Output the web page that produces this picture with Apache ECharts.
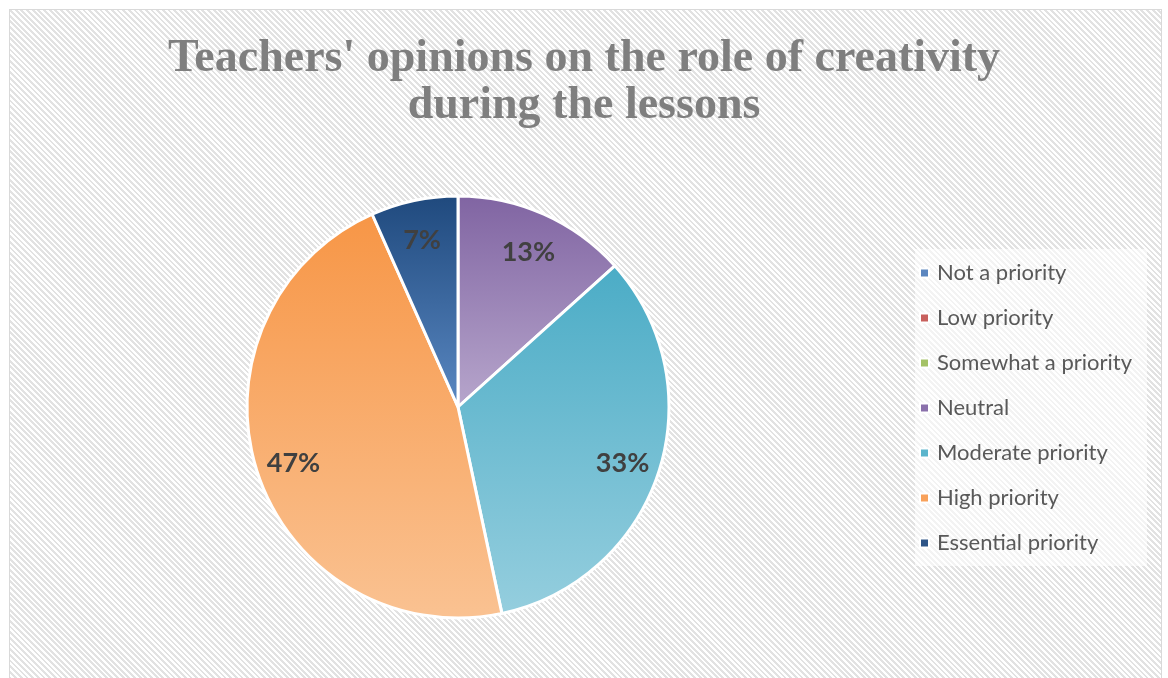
<!DOCTYPE html>
<html>
<head>
<meta charset="utf-8">
<script src="https://cdn.jsdelivr.net/npm/echarts@6/dist/echarts.min.js"></script>
<style>
  html, body { margin: 0; padding: 0; background: #fff; }
  #frame {
    position: absolute; left: 9px; top: 9px; width: 1151px; height: 700px;
    border: 1px solid #d9d9d9;
    background: repeating-linear-gradient(45deg, #ffffff 0px, #ffffff 2px, #e2e2e2 2px, #e2e2e2 4px);
  }
  #chart { position: absolute; left: 0; top: 0; width: 1168px; height: 678px; }
</style>
</head>
<body>
<div id="frame"></div>
<div id="chart"></div>
<script>
// categories and answers (number of teachers)
const categorias = ['Not a priority', 'Low priority', 'Somewhat a priority', 'Neutral',
  'Moderate priority', 'High priority', 'Essential priority'];
const respuestas = [0, 0, 0, 2, 5, 7, 1];

// top / bottom colours of each slice gradient
const colores_arriba = ['#4F81BD', '#C0504D', '#9BBB59', '#8064A2', '#4BACC6', '#F79646', '#1F497D'];
const colores_abajo = ['#95B3D7', '#D99694', '#C3D69B', '#B7A6CC', '#95CEDE', '#FAC292', '#5A88C2'];
const colores_leyenda = ['#5B86BF', '#C8605D', '#A4C266', '#8A70AB', '#5BB5CC', '#F8A15A', '#2E5587'];

const total = respuestas.reduce((a, b) => a + b, 0);

const datos_pie = categorias.map((c, i) => ({
  name: c,
  value: respuestas[i],
  itemStyle: {
    color: new echarts.graphic.LinearGradient(0, 0, 0, 1, [
      { offset: 0, color: colores_arriba[i] },
      { offset: 1, color: colores_abajo[i] }
    ])
  }
}));

const etiqueta = function (p) {
  if (!p.value) return '';
  return Math.round(p.value / total * 100) + '%';
};

var myChart = echarts.init(document.getElementById('chart'));
var option = {
  backgroundColor: 'transparent',
  animation: false,
  title: {
    text: "Teachers' opinions on the role of creativity\nduring the lessons",
    left: 'center',
    top: 31,
    textStyle: {
      fontFamily: 'Liberation Serif',
      fontWeight: 'bold',
      fontSize: 46,
      lineHeight: 47,
      color: '#7f7f7f'
    }
  },
  legend: {
    orient: 'vertical',
    left: 915,
    top: 249,
    padding: [13, 15, 12, 4],
    backgroundColor: 'rgba(255,255,255,0.6)',
    itemWidth: 9,
    itemHeight: 9,
    itemGap: 23,
    icon: 'rect',
    textStyle: {
      fontFamily: 'Lato',
      fontSize: 22,
      lineHeight: 20,
      color: '#595959',
      padding: [0, 0, 0, 3]
    },
    data: categorias.map((c, i) => ({ name: c, itemStyle: { color: colores_leyenda[i] } }))
  },
  series: [
    {
      name: 'Opiniones',
      type: 'pie',
      center: [458, 407],
      radius: [0, 211],
      startAngle: 90,
      clockwise: true,
      silent: true,
      itemStyle: { borderColor: '#ffffff', borderWidth: 3 },
      label: { show: false },
      labelLine: { show: false },
      data: datos_pie
    },
    {
      // invisible twin just to place the labels further out
      name: 'Etiquetas',
      type: 'pie',
      center: [458, 410],
      radius: [0, 340],
      startAngle: 90,
      clockwise: true,
      silent: true,
      itemStyle: { color: 'rgba(0,0,0,0)', borderWidth: 0 },
      label: {
        show: true,
        position: 'inside',
        formatter: etiqueta,
        fontFamily: 'Lato',
        fontWeight: 'bold',
        fontSize: 27,
        color: '#404040'
      },
      labelLine: { show: false },
      data: categorias.map((c, i) => ({ name: c, value: respuestas[i] }))
    }
  ]
};
myChart.setOption(option);
</script>
</body>
</html>
